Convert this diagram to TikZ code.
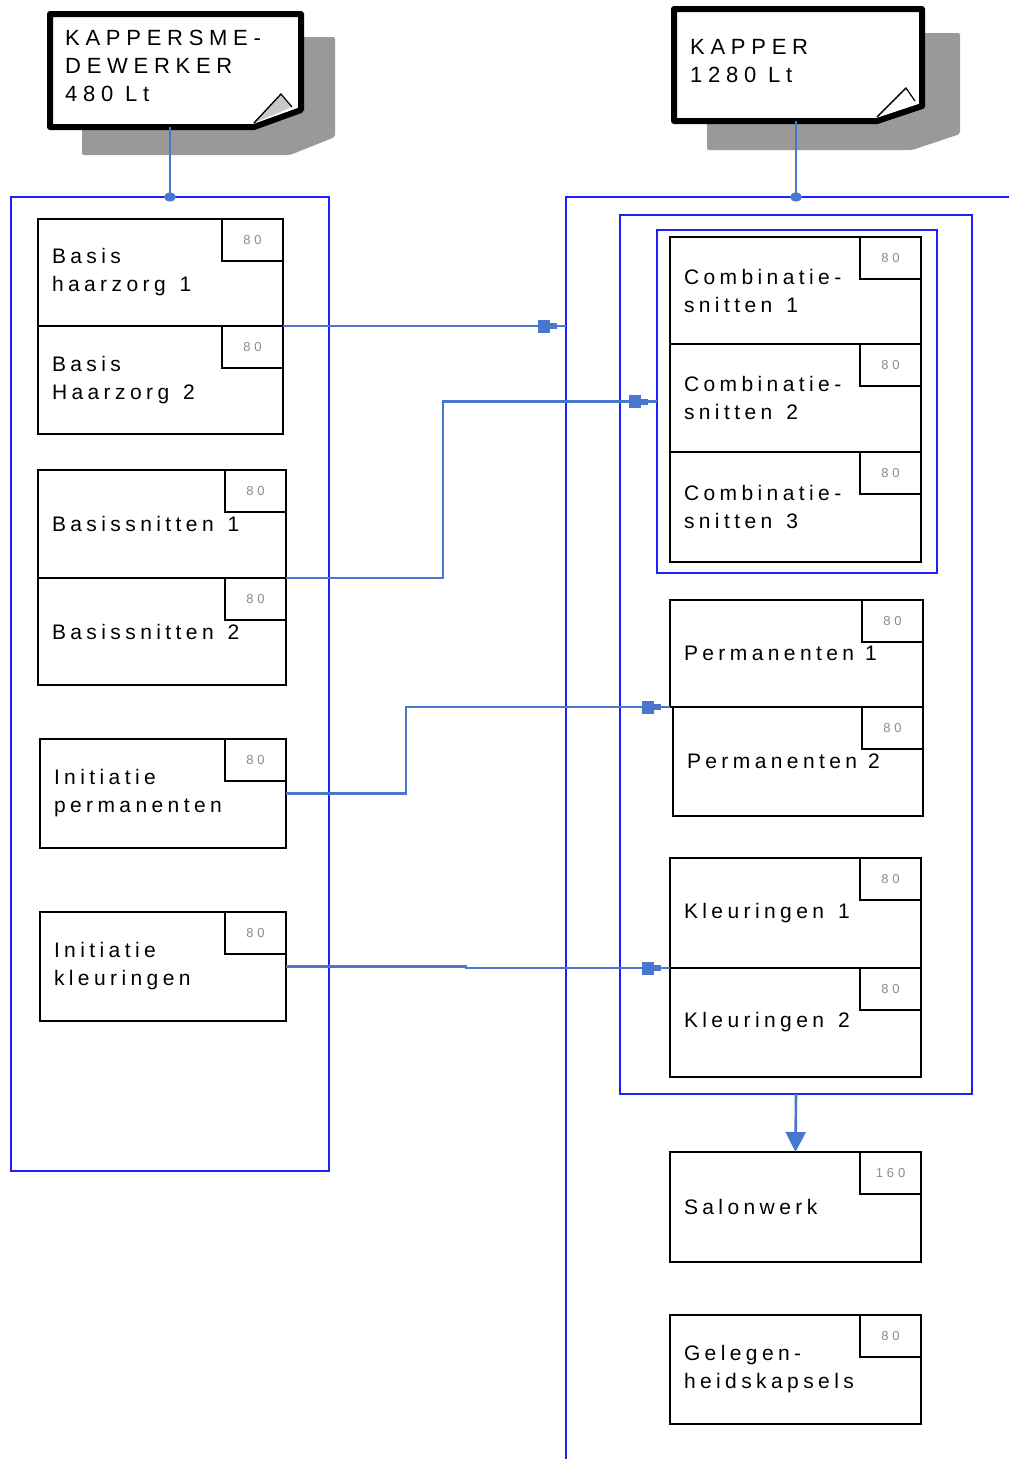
\documentclass[tikz,border=0pt]{standalone}
\usepackage{fontspec}
\setmainfont{Liberation Sans}
\newfontfamily\boxfont[LetterSpace=21]{Liberation Sans}
\newfontfamily\notefont[LetterSpace=26]{Liberation Sans}
\newfontfamily\numfont[LetterSpace=30]{Liberation Sans}
\newcommand{\wsp}{\hspace*{14pt}}
\newcommand{\nsp}{\hspace*{11pt}}
\usetikzlibrary{arrows.meta,decorations.markings}
\definecolor{cblue}{RGB}{30,30,255}
\definecolor{cblue2}{RGB}{72,120,205}
\definecolor{shadowgray}{RGB}{153,153,153}
\definecolor{foldgray}{RGB}{200,200,200}
\definecolor{numgray}{RGB}{140,140,140}
\begin{document}
\begin{tikzpicture}[x=1pt,y=-1pt,
  container/.style={draw=cblue, line width=2.9pt, outer sep=0pt, inner sep=0pt, anchor=north west},
  holder/.style={draw=none, outer sep=0pt, inner sep=0pt, anchor=north west},
  actbox/.style={draw=black, line width=2.8pt, fill=white, outer sep=0pt, anchor=north west,
    inner xsep=14pt, inner ysep=0pt, align=left, font=\boxfont\fontsize{21}{28}\selectfont},
  numbox/.style={draw=black, line width=2.8pt, fill=white, outer sep=0pt, anchor=north east,
    minimum width=61pt, minimum height=42pt, inner sep=0pt, text=numgray,
    font=\numfont\fontsize{13}{14}\selectfont},
  notetext/.style={anchor=west, align=left, inner sep=0pt, font=\notefont\fontsize{22}{28}\selectfont},
  conn/.style={draw=cblue2, line width=2.6pt},
  headmark/.style={decoration={markings,
    mark=at position -9pt with {\arrow{Rectangle[length=12pt,width=13pt,fill=cblue2]Rectangle[length=7pt,width=6pt,fill=cblue2]}}},
    postaction=decorate}
]
\useasboundingbox (0,0) rectangle (1009,1459);

% ---------- containers ----------
\node[container, minimum width=318pt, minimum height=974pt] (lc) at (11,197) {};
\node[holder, minimum width=460pt, minimum height=1280pt] (rc) at (566,197) {};
\draw[cblue, line width=2.9pt] (rc.north east) -- (rc.north west) -- (rc.south west);
\node[container, minimum width=352pt, minimum height=879pt] (ib) at (620,215) {};
\node[container, minimum width=280pt, minimum height=343pt] (ic) at (657,230) {};

% ---------- notes ----------
\node[holder, minimum width=251pt, minimum height=113pt] (n1) at (50,14) {};
\node[holder, minimum width=248pt, minimum height=112pt] (n2) at (674,9) {};

\fill[shadowgray, rounded corners=2pt] (82,37) -- (335,37) -- (335,137) -- (290,155) -- (82,155) -- cycle;
\fill[shadowgray, rounded corners=2pt] (707,33) -- (960,33) -- (960,134) -- (912,150) -- (707,150) -- cycle;

\draw[line width=6pt, fill=white, line join=round]
  (n1.north west) -- (n1.north east) -- ([yshift=17pt]n1.south east) -- ([xshift=-47pt]n1.south east) -- (n1.south west) -- cycle;
\filldraw[fill=foldgray, line width=1.2pt] ([xshift=-47pt,yshift=4pt]n1.south east) -- ([xshift=-20pt,yshift=33pt]n1.south east) -- ([xshift=-9pt,yshift=20pt]n1.south east);
\draw[line width=1.2pt, densely dotted] ([xshift=-47pt,yshift=4pt]n1.south east) -- ([xshift=-20pt,yshift=33pt]n1.south east);

\draw[line width=6pt, fill=white, line join=round]
  (n2.north west) -- (n2.north east) -- ([yshift=15pt]n2.south east) -- ([xshift=-45pt]n2.south east) -- (n2.south west) -- cycle;
\filldraw[fill=white, line width=1.2pt] ([xshift=-45pt,yshift=4pt]n2.south east) -- ([xshift=-16pt,yshift=33pt]n2.south east) -- ([xshift=-7pt,yshift=20pt]n2.south east);
\draw[line width=1.2pt, densely dotted] ([xshift=-45pt,yshift=4pt]n2.south east) -- ([xshift=-16pt,yshift=33pt]n2.south east);

\node[notetext] (n1t) at ([xshift=15pt,yshift=4.5pt]n1.west) {KAPPERSME-\\DEWERKER\\480 Lt};
\node[notetext] (n2t) at ([xshift=16pt,yshift=3.5pt]n2.west) {KAPPER\\1280 Lt};

% ---------- left boxes ----------
\node[actbox, text width=217pt, minimum height=107pt] (b1) at (38,219) {Basis\\haarzorg\wsp1};
\node[actbox, text width=217pt, minimum height=108pt] (b2) at (38,326) {Basis\\Haarzorg\wsp2};
\node[actbox, text width=220pt, minimum height=108pt] (b3) at (38,470) {Basissnitten\wsp1};
\node[actbox, text width=220pt, minimum height=107pt] (b4) at (38,578) {Basissnitten\wsp2};
\node[actbox, text width=218pt, minimum height=109pt] (b5) at (40,739) {Initiatie\\permanenten};
\node[actbox, text width=218pt, minimum height=109pt] (b6) at (40,912) {Initiatie\\kleuringen};

% ---------- right boxes ----------
\node[actbox, text width=223pt, minimum height=107pt] (c1) at (670,237) {Combinatie-\\snitten\wsp1};
\node[actbox, text width=223pt, minimum height=108pt] (c2) at (670,344) {Combinatie-\\snitten\wsp2};
\node[actbox, text width=223pt, minimum height=110pt] (c3) at (670,452) {Combinatie-\\snitten\wsp3};
\node[actbox, text width=225pt, minimum height=107pt] (p1) at (670,600) {Permanenten\nsp1};
\node[actbox, text width=222pt, minimum height=109pt] (p2) at (673,707) {Permanenten\nsp2};
\node[actbox, text width=223pt, minimum height=110pt] (k1) at (670,858) {Kleuringen\wsp1};
\node[actbox, text width=223pt, minimum height=109pt] (k2) at (670,968) {Kleuringen\wsp2};
\node[actbox, text width=223pt, minimum height=110pt] (sw) at (670,1152) {Salonwerk};
\node[actbox, text width=223pt, minimum height=109pt] (gh) at (670,1315) {Gelegen-\\heidskapsels};

% ---------- hour boxes ----------
\foreach \b in {b1,b2,b3,b4,b5,b6,c1,c2,c3,p1,p2,k1,k2,gh}{
  \node[numbox] (\b n) at (\b.north east) {80};
}
\node[numbox] (swn) at (sw.north east) {160};

% ---------- connectors ----------
\draw[conn] (lc.north) -- (lc.north |- n1.south);
\fill[cblue2] (lc.north) ellipse (6pt and 4.5pt);
\draw[conn] (ib.north |- rc.north) -- (ib.north |- n2.south);
\fill[cblue2] (ib.north |- rc.north) ellipse (6pt and 4.5pt);

\draw[conn, headmark] (b1.south east) -- (b1.south east -| rc.west);
\draw[conn, headmark] (b3.south east) -- ([xshift=157pt]b3.south east) |- (ic.west);
\draw[conn, headmark] (b5.east) -- ([xshift=120pt]b5.east) |- (p1.south west);
\draw[conn, headmark] (b6.east) -- ([xshift=180pt]b6.east) |- (k1.south west);
\draw[conn, -{Triangle[length=20pt,width=20pt]}] (ib.south) -- (sw.north);
\end{tikzpicture}
\end{document}
